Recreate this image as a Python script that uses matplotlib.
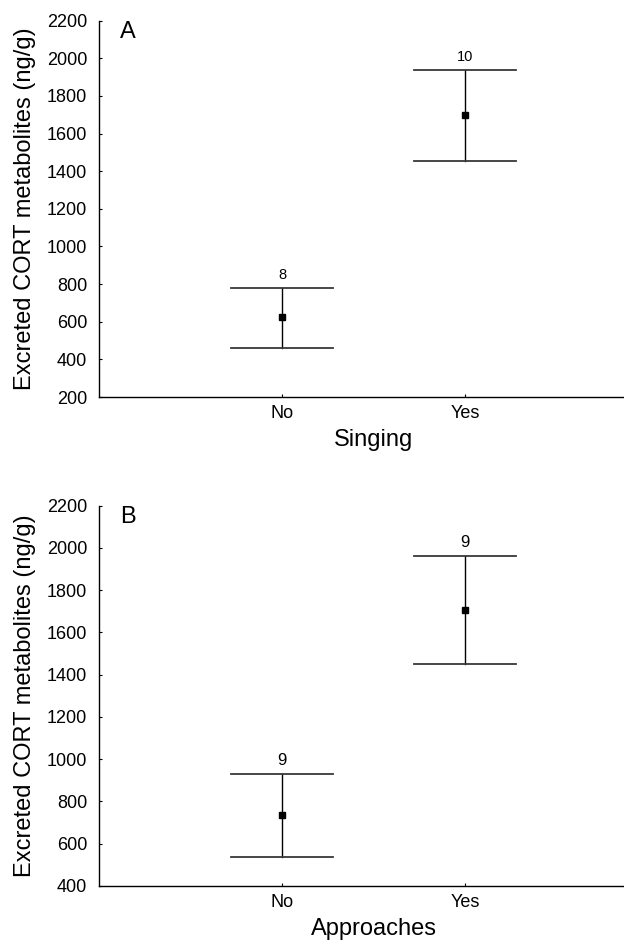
import matplotlib
matplotlib.use("Agg")
import matplotlib.pyplot as plt

plt.rcParams['font.family'] = ['Liberation Sans', 'DejaVu Sans']

groups = ['No', 'Yes']
xpos = [1, 2]

# panel A: singing
sing_mean = [623, 1699]
sing_low = [462, 1457]
sing_high = [782, 1938]
sing_n = ['8', '10']

# panel B: approaches
appr_mean = [737, 1706]
appr_low = [539, 1452]
appr_high = [931, 1962]
appr_n = ['9', '9']

fig = plt.figure(figsize=(6.24, 9.5), dpi=100)
# the x axis runs past the right edge of the figure, as in the original
axA = fig.add_axes([0.1587, 0.5821, 0.8798, 0.3961])
axB = fig.add_axes([0.1587, 0.0674, 0.8798, 0.4003])


def draw(ax, mean, low, high, nlab, ylim, yticks, xlabel, letter, nsize):
    for x, m, lo, hi, n in zip(xpos, mean, low, high, nlab):
        ax.plot([x, x], [lo, hi], color='black', lw=1)
        ax.plot([x - 0.28, x + 0.28], [hi, hi], color='#383838', lw=1.3)
        ax.plot([x - 0.28, x + 0.28], [lo, lo], color='#383838', lw=1.3)
        ax.plot(x, m, 's', color='black', ms=5)
        ax.annotate(n, (x, hi), xytext=(0, 4), textcoords='offset points',
                    ha='center', va='bottom', fontsize=nsize)
    ax.set_xlim(0, 3)
    ax.set_ylim(*ylim)
    ax.set_yticks(yticks)
    ax.set_xticks(xpos)
    ax.set_xticklabels(groups)
    ax.spines['top'].set_visible(False)
    ax.spines['right'].set_visible(False)
    for s in ('left', 'bottom'):
        ax.spines[s].set_linewidth(1.0)
    ax.tick_params(labelsize=13, length=2.5, width=0.8, direction='in')
    ax.tick_params(axis='y', pad=8.5)
    ax.tick_params(axis='x', pad=6)
    ax.set_xlabel(xlabel, fontsize=17, labelpad=5)
    ax.set_ylabel('Excreted CORT metabolites (ng/g)', fontsize=17, labelpad=8)
    ax.text(0.115, ylim[1], letter, fontsize=17, ha='left', va='top')


draw(axA, sing_mean, sing_low, sing_high, sing_n, (200, 2200),
     range(200, 2201, 200), 'Singing', 'A', 10.5)
draw(axB, appr_mean, appr_low, appr_high, appr_n, (400, 2200),
     range(400, 2201, 200), 'Approaches', 'B', 12)

fig.savefig('out.png', dpi=100)
